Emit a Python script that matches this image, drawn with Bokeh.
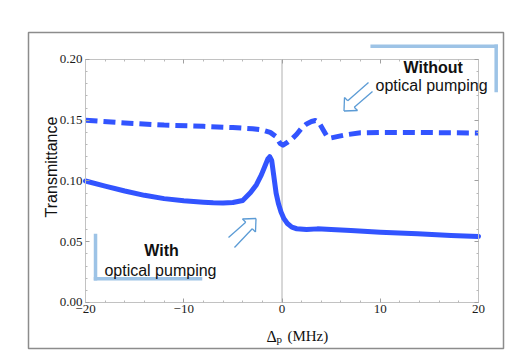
from bokeh.plotting import figure
from bokeh.models import (Range1d, LinearAxis, FixedTicker, Label, Arrow,
                          CustomJSTickFormatter)
from bokeh.embed import file_html
from bokeh.resources import INLINE

# ---------------- data ----------------
x_with = [-20, -18, -16, -14, -12, -10, -8, -7, -6, -5, -4, -3.2, -2.6, -2.1, -1.7,
          -1.45, -1.25, -1.05, -0.85, -0.6, -0.35, -0.1, 0.2, 0.55, 1.0, 1.5, 2.5,
          3.6, 5, 7, 10, 13.8, 17.2, 20]
t_with = [0.1000, 0.0958, 0.0918, 0.0882, 0.0855, 0.0837, 0.0826, 0.0821, 0.0819,
          0.0823, 0.0840, 0.0905, 0.0970, 0.1050, 0.1130, 0.1180, 0.1200, 0.1170,
          0.1050, 0.0900, 0.0810, 0.0745, 0.0690, 0.0650, 0.0620, 0.0607, 0.0600,
          0.0606, 0.0600, 0.0592, 0.0579, 0.0565, 0.0551, 0.0543]

x_without = [-20, -16, -12, -8, -5, -3, -2, -1.2, -0.6, -0.2, 0.1, 0.5, 1.0, 1.5,
             2.0, 2.5, 3.0, 3.4, 3.8, 4.2, 4.6, 5.0, 5.6, 6.5, 8, 10, 13, 16, 20]
t_without = [0.1500, 0.1478, 0.1460, 0.1450, 0.1440, 0.1430, 0.1420, 0.1400, 0.1365,
             0.1310, 0.1295, 0.1315, 0.1345, 0.1385, 0.1435, 0.1470, 0.1490, 0.1498,
             0.1475, 0.1420, 0.1365, 0.1355, 0.1365, 0.1380, 0.1397, 0.1400, 0.1400,
             0.1398, 0.1395]

x_ticks = [-20, -10, 0, 10, 20]
x_tick_labels = ["\u221220", "\u221210", "0", "10", "20"]
x_minor = [-18, -16, -14, -12, -8, -6, -4, -2, 2, 4, 6, 8, 12, 14, 16, 18]
y_ticks = [0.0, 0.05, 0.10, 0.15, 0.20]
y_tick_labels = ["0.00", "0.05", "0.10", "0.15", "0.20"]
y_minor = [0.01, 0.02, 0.03, 0.04, 0.06, 0.07, 0.08, 0.09, 0.11, 0.12, 0.13, 0.14,
           0.16, 0.17, 0.18, 0.19]

X_MIN, X_MAX = -20, 20
Y_MIN, Y_MAX = 0.0, 0.2

BLUE = "#3254FF"
BRACKET = "#9DC3E6"
ARROW = "#5B9BD5"

# The frame is the grey outer box; the data axes sit inside it at fixed locations.
p = figure(width=509, height=350,
           x_range=Range1d(-25.8015, 22.5445), y_range=Range1d(-0.03786, 0.22222),
           output_backend="svg", toolbar_location=None,
           min_border_left=28, min_border_right=6, min_border_top=32, min_border_bottom=2)
p.xgrid.visible = False
p.ygrid.visible = False
p.outline_line_color = "#8c8c8c"
p.outline_line_width = 1.5
p.background_fill_color = "white"
p.border_fill_color = "white"


def style_axis(ax):
    ax.axis_line_color = "#c2c2c2"
    ax.axis_line_width = 1
    ax.major_tick_line_color = "#a0a0a0"
    ax.minor_tick_line_color = "#b8b8b8"
    ax.major_tick_in = 4
    ax.major_tick_out = 0
    ax.minor_tick_in = 2
    ax.minor_tick_out = 0
    ax.major_label_text_font = "Liberation Serif"
    ax.major_label_text_font_size = "13px"
    ax.major_label_text_color = "#1a1a1a"


xa = p.xaxis[0]
xa.ticker = FixedTicker(ticks=x_ticks, minor_ticks=x_minor)
xa.major_label_overrides = {t: l for t, l in zip(x_ticks, x_tick_labels)}
style_axis(xa)
xa.major_label_standoff = 3
xa.fixed_location = Y_MIN
xa.bounds = (X_MIN, X_MAX)

ya = p.yaxis[0]
ya.ticker = FixedTicker(ticks=y_ticks, minor_ticks=y_minor)
ya.major_label_overrides = {t: l for t, l in zip(y_ticks, y_tick_labels)}
style_axis(ya)
ya.major_label_standoff = 3
ya.fixed_location = X_MIN
ya.bounds = (Y_MIN, Y_MAX)

top_ax = LinearAxis(ticker=FixedTicker(ticks=x_ticks, minor_ticks=x_minor),
                    formatter=CustomJSTickFormatter(code="return ''"))
style_axis(top_ax)
top_ax.fixed_location = Y_MAX
top_ax.bounds = (X_MIN, X_MAX)
p.add_layout(top_ax, "above")

right_ax = LinearAxis(ticker=FixedTicker(ticks=y_ticks, minor_ticks=y_minor),
                      formatter=CustomJSTickFormatter(code="return ''"))
style_axis(right_ax)
right_ax.fixed_location = X_MAX
right_ax.bounds = (Y_MIN, Y_MAX)
p.add_layout(right_ax, "right")


# ---------------- decorations helper ----------------
def polyline(xs, ys, color, width, cap="butt", level="annotation"):
    for i in range(len(xs) - 1):
        p.add_layout(Arrow(end=None, x_start=xs[i], y_start=ys[i], x_end=xs[i + 1],
                           y_end=ys[i + 1], line_color=color, line_width=width,
                           line_cap=cap, level=level))


# zero line
polyline([0, 0], [Y_MIN, Y_MAX], "#b0b0b0", 1, level="underlay")

# ---------------- curves ----------------
p.line(x_with, t_with, line_width=5, line_color=BLUE, line_join="round", line_cap="round")
p.line(x_without, t_without, line_width=5, line_color=BLUE, line_dash="12 6",
       line_join="round")

# brackets
polyline([9.18, 21.80, 21.80], [0.21086, 0.21086, 0.17449], BRACKET, 3.5, "square")
polyline([-18.98, -18.98, -8.295], [0.05514, 0.01951, 0.01951], BRACKET, 3.5, "square")

# outline arrows
polyline([8.804, 6.692, 6.361, 6.310, 7.684, 7.354, 9.211],
         [0.18107, 0.16605, 0.16872, 0.15761, 0.15802, 0.16070, 0.17366], ARROW, 1.3)
polyline([-5.445, -3.690, -4.020, -2.646, -2.697, -3.028, -4.835],
         [0.05350, 0.06605, 0.06872, 0.06914, 0.05802, 0.06070, 0.04527], ARROW, 1.3)


# texts
def label(x, y, text, size="16px", style="normal", font="Liberation Sans", align="center",
          angle=0.0):
    p.add_layout(Label(x=x, y=y, text=text, text_font=font, text_font_size=size,
                       text_font_style=style, text_align=align, text_baseline="alphabetic",
                       text_color="#111111", angle=angle))


label(15.39, 0.1937, "Without", style="bold")
label(15.22, 0.1786, "optical pumping")
label(-12.26, 0.0428, "With", style="bold")
label(-12.37, 0.0263, "optical pumping")

label(-23.41, 0.1115, "Transmittance", angle=1.5708)

label(-1.578, -0.02798, "\u0394", size="16px", font="Liberation Serif", align="left")
label(-0.56, -0.0302, "p", size="11px", font="Liberation Serif", align="left")
label(0.55, -0.02798, "(MHz)", size="15px", font="Liberation Serif", align="left")

open("out.html", "w").write(file_html(p, INLINE))
